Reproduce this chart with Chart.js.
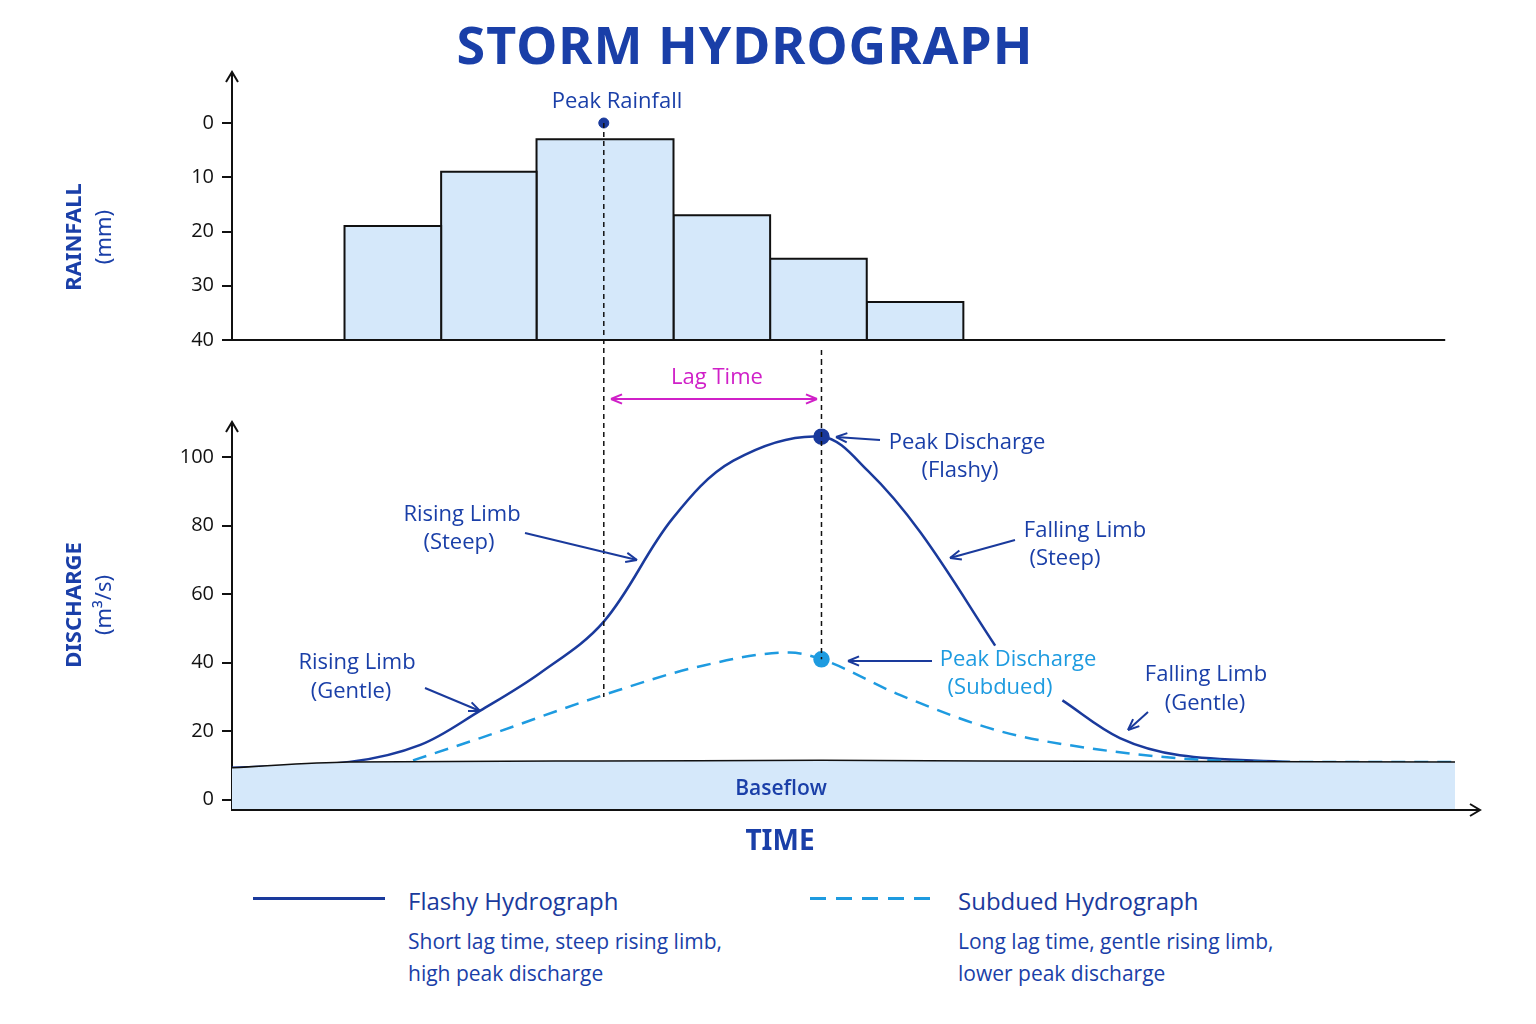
<!DOCTYPE html>
<html><head><meta charset="utf-8">
<script src="https://cdn.jsdelivr.net/npm/chart.js@4.4.1/dist/chart.umd.min.js"></script>
<style>
body{margin:0;width:1536px;height:1024px;background:#fff;position:relative;font-family:'Open Sans',sans-serif;overflow:hidden}
#title{position:absolute;left:0;width:1490px;top:8px;text-align:center;font:700 52px 'Noto Sans',sans-serif;color:#1a3fa8;letter-spacing:1px}
canvas{position:absolute;left:0}
.lg{position:absolute;color:#1a3a9c}
.lg b{font-weight:500;font-size:24px;display:block;margin-bottom:8px}
.lg span{font-size:21px;line-height:32px;color:#1a3fa8}
</style></head><body>
<div id="title">STORM HYDROGRAPH</div>
<div style="position:absolute;width:1536px;height:300px;top:60px"><canvas id="top"></canvas></div>
<div style="position:absolute;width:1536px;height:510px;top:360px"><canvas id="bot"></canvas></div>
<div style="position:absolute;left:253px;top:897px;width:132px;border-top:3px solid #1a3a9c"></div>
<div class="lg" style="left:408px;top:884px"><b>Flashy Hydrograph</b><span>Short lag time, steep rising limb,<br>high peak discharge</span></div>
<div style="position:absolute;left:810px;top:897px;width:127px;height:3px;background:repeating-linear-gradient(90deg,#1e9be0 0 16px,transparent 16px 26px)"></div>
<div class="lg" style="left:958px;top:884px"><b>Subdued Hydrograph</b><span>Long lag time, gentle rising limb,<br>lower peak discharge</span></div>
<script>
// ---- data ----
const barEdges = [9.2, 17.1, 24.9, 36.1, 44.0, 51.9, 59.8];
const rainfall = [19, 9, 3, 17, 25, 33];
const rainTicks = [0, 10, 20, 30, 40];
const flashyX = [0, 9.6, 15.4, 20.3, 25.2, 30.4, 36, 41, 48.2, 52, 56.3, 62.4, 65, 67.9, 72.6, 77.5, 86.5];
const flashyY = [9.3, 11, 16, 26, 37, 52, 82, 99, 106, 96, 78, 45, null, 29, 18, 13, 11];
const subduedX = [14.8, 20.3, 30.4, 38.3, 45.6, 48.2, 54.6, 62.8, 71, 79.1, 86.5, 100];
const subduedY = [11.5, 18, 30.6, 39, 43, 41, 30.6, 20, 14.6, 11.7, 11, 11];
const baseX = [0, 9.6, 30, 48.2, 70, 100];
const baseY = [9.3, 11, 11.3, 11.5, 11.2, 11];
const dischargeTicks = [0, 20, 40, 60, 80, 100];
const peakRainX = 30.4, peakQX = 48.2;

const DARK='#1a3a9c', LIGHT='#1e9be0', TXT='#1a3fa8';
const pts=(xs,ys)=>xs.map((x,i)=>({x,y:ys[i]}));

function arrow(ctx,x1,y1,x2,y2,color,both){
  ctx.save();ctx.strokeStyle=color;ctx.fillStyle=color;ctx.lineWidth=2;
  ctx.beginPath();ctx.moveTo(x1,y1);ctx.lineTo(x2,y2);ctx.stroke();
  const head=(ax,ay,bx,by)=>{const a=Math.atan2(by-ay,bx-ax);ctx.beginPath();ctx.moveTo(bx,by);
    ctx.lineTo(bx-12*Math.cos(a-0.4),by-12*Math.sin(a-0.4));ctx.moveTo(bx,by);
    ctx.lineTo(bx-12*Math.cos(a+0.4),by-12*Math.sin(a+0.4));ctx.stroke();};
  head(x1,y1,x2,y2); if(both) head(x2,y2,x1,y1);
  ctx.restore();
}
function txt(ctx,s,x,y,color,font){ctx.save();ctx.fillStyle=color;ctx.font=font||'22px "Open Sans"';ctx.textAlign='center';ctx.textBaseline='middle';ctx.fillText(s,x,y);ctx.restore();}
function vtitle(ctx,lines,x,y){ctx.save();ctx.translate(x,y);ctx.rotate(-Math.PI/2);ctx.fillStyle=TXT;ctx.textAlign='center';ctx.textBaseline='middle';
  ctx.font='700 22px "Noto Sans"';ctx.fillText(lines[0],0,-15);ctx.font='22px "Noto Sans"';ctx.fillText(lines[1],0,15);ctx.restore();}

const yFit = s=>{s.width=232;};

// ---- top chart ----
const barSets = rainfall.map((v,i)=>({type:'line',data:[{x:barEdges[i],y:40},{x:barEdges[i],y:v},{x:barEdges[i+1],y:v},{x:barEdges[i+1],y:40}],
  borderColor:'#111',borderWidth:2,backgroundColor:'#d5e8fa',fill:{value:40},pointRadius:0,tension:0}));
barSets.push({type:'scatter',data:[{x:peakRainX,y:0}],pointRadius:5,backgroundColor:DARK,borderColor:DARK,clip:false});
new Chart(document.getElementById('top'),{
  type:'scatter',data:{datasets:barSets},
  options:{responsive:true,maintainAspectRatio:false,animation:false,
    layout:{padding:{top:63,bottom:14,right:81}},
    plugins:{legend:{display:false},tooltip:{enabled:false}},
    scales:{x:{type:'linear',min:0,max:100,display:false},
      y:{min:0,max:40,reverse:true,afterFit:yFit,afterBuildTicks:s=>{s.ticks=rainTicks.map(v=>({value:v}));},
        ticks:{color:'#111',font:{size:20,family:'Open Sans'},padding:8},
        grid:{drawOnChartArea:false,tickLength:10,color:'#111',lineWidth:2},border:{color:'#111',width:2}}}},
  plugins:[{id:'deco',afterDraw(c){const ctx=c.ctx,a=c.chartArea,x=c.scales.x;
    ctx.save();ctx.strokeStyle='#111';ctx.lineWidth=2;
    ctx.beginPath();ctx.moveTo(a.left,a.bottom);ctx.lineTo(x.getPixelForValue(99.2),a.bottom);ctx.stroke();
    ctx.beginPath();ctx.moveTo(a.left,a.top);ctx.lineTo(a.left,12);ctx.stroke();
    ctx.beginPath();ctx.moveTo(a.left-6,22);ctx.lineTo(a.left,12);ctx.lineTo(a.left+6,22);ctx.stroke();
    ctx.setLineDash([5,4]);ctx.lineWidth=1.5;
    const px=x.getPixelForValue(peakRainX);ctx.beginPath();ctx.moveTo(px,a.top);ctx.lineTo(px,300);ctx.stroke();
    const qx=x.getPixelForValue(peakQX);ctx.beginPath();ctx.moveTo(qx,290);ctx.lineTo(qx,300);ctx.stroke();
    ctx.restore();
    txt(ctx,'Peak Rainfall',617,42,TXT);
    vtitle(ctx,['RAINFALL','(mm)'],90,177);
  }}]
});

// ---- bottom chart ----
new Chart(document.getElementById('bot'),{
  type:'scatter',
  data:{datasets:[
    {type:'line',data:pts(baseX,baseY),borderColor:'#111',borderWidth:1.5,backgroundColor:'#d5e8fa',fill:'start',pointRadius:0,cubicInterpolationMode:'monotone'},
    {type:'line',data:pts(subduedX,subduedY),borderColor:LIGHT,borderWidth:2.5,borderDash:[14,9],fill:false,cubicInterpolationMode:'monotone',
      pointRadius:ctx=>subduedX[ctx.dataIndex]===peakQX?7:0,pointBackgroundColor:LIGHT,pointBorderColor:LIGHT},
    {type:'line',data:pts(flashyX,flashyY),borderColor:DARK,borderWidth:2.5,fill:false,spanGaps:false,tension:0.35,
      pointRadius:ctx=>flashyX[ctx.dataIndex]===peakQX?7:0,pointBackgroundColor:DARK,pointBorderColor:DARK}
  ]},
  options:{responsive:true,maintainAspectRatio:false,animation:false,
    layout:{padding:{top:63,bottom:60,right:81}},
    plugins:{legend:{display:false},tooltip:{enabled:false}},
    scales:{x:{type:'linear',min:0,max:100,display:false},
      y:{min:-3,max:110,afterFit:yFit,afterBuildTicks:s=>{s.ticks=dischargeTicks.map(v=>({value:v}));},
        ticks:{color:'#111',font:{size:20,family:'Open Sans'},padding:8},
        grid:{drawOnChartArea:false,tickLength:10,color:'#111',lineWidth:2},border:{color:'#111',width:2}}}},
  plugins:[{id:'deco',afterDraw(c){const ctx=c.ctx,a=c.chartArea,x=c.scales.x,y=c.scales.y;
    ctx.save();ctx.strokeStyle='#111';ctx.lineWidth=2;
    ctx.beginPath();ctx.moveTo(a.left,a.bottom);ctx.lineTo(1480,a.bottom);ctx.stroke();
    ctx.beginPath();ctx.moveTo(1470,a.bottom-6);ctx.lineTo(1480,a.bottom);ctx.lineTo(1470,a.bottom+6);ctx.stroke();
    ctx.beginPath();ctx.moveTo(a.left,a.top);ctx.lineTo(a.left,62);ctx.stroke();
    ctx.beginPath();ctx.moveTo(a.left-6,72);ctx.lineTo(a.left,62);ctx.lineTo(a.left+6,72);ctx.stroke();
    ctx.setLineDash([5,4]);ctx.lineWidth=1.5;
    const px=x.getPixelForValue(peakRainX);ctx.beginPath();ctx.moveTo(px,0);ctx.lineTo(px,337);ctx.stroke();
    const qx=x.getPixelForValue(peakQX);ctx.beginPath();ctx.moveTo(qx,0);ctx.lineTo(qx,y.getPixelForValue(41));ctx.stroke();
    ctx.restore();
    arrow(ctx,611,39,817,39,'#d020c8',true);
    txt(ctx,'Lag Time',717,18,'#d020c8');
    txt(ctx,'Peak Discharge',967,83,TXT);txt(ctx,'(Flashy)',960,111,TXT);arrow(ctx,880,80,836,77,DARK);
    txt(ctx,'Rising Limb',462,155,TXT);txt(ctx,'(Steep)',459,183,TXT);arrow(ctx,525,173,637,200,DARK);
    txt(ctx,'Falling Limb',1085,171,TXT);txt(ctx,'(Steep)',1065,199,TXT);arrow(ctx,1015,180,950,198,DARK);
    txt(ctx,'Peak Discharge',1018,300,LIGHT);txt(ctx,'(Subdued)',1000,328,LIGHT);arrow(ctx,932,301,848,301,DARK);
    txt(ctx,'Rising Limb',357,303,TXT);txt(ctx,'(Gentle)',351,332,TXT);arrow(ctx,425,328,480,351,DARK);
    txt(ctx,'Falling Limb',1206,315,TXT);txt(ctx,'(Gentle)',1205,344,TXT);arrow(ctx,1148,352,1128,370,DARK);
    txt(ctx,'Baseflow',781,429,TXT,'600 21px "Open Sans"');
    txt(ctx,'TIME',780,482,TXT,'700 28px "Noto Sans"');
    vtitle(ctx,['DISCHARGE','(m³/s)'],90,245);
  }}]
});
</script></body></html>
